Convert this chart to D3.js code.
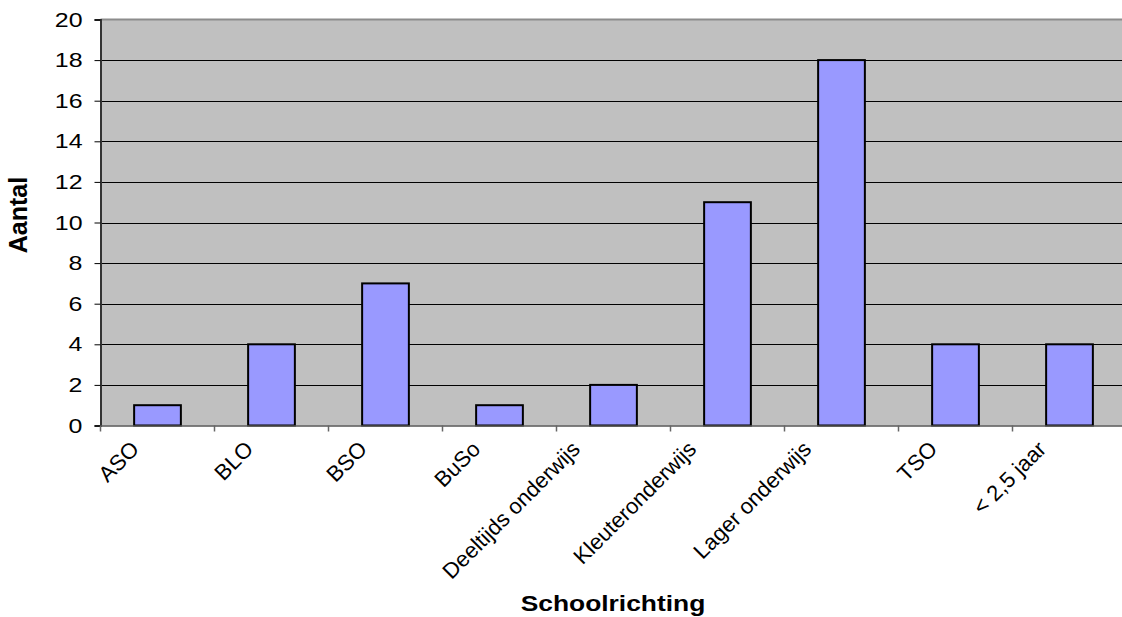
<!DOCTYPE html>
<html><head><meta charset="utf-8">
<script src="https://cdn.jsdelivr.net/npm/d3@7"></script>
<style>body{margin:0;background:#fff}svg{display:block;font-family:Arial,"Liberation Sans",sans-serif}</style>
</head><body>
<svg id="c" width="1122" height="617"></svg>
<script>
const categories = ["ASO","BLO","BSO","BuSo","Deeltijds onderwijs","Kleuteronderwijs","Lager onderwijs","TSO","< 2,5 jaar"];
const values = [1,4,7,1,2,11,18,4,4];
const yTicks = [0,2,4,6,8,10,12,14,16,18,20];
const yTitle = "Aantal";
const xTitle = "Schoolrichting";

const svg = d3.select("#c");
const L = 100.5, R = 1126.5, T = 19.5, B = 425.5;
const x = d3.scaleBand().domain(categories).range([L, R]).paddingInner(0.59).paddingOuter(0.295);
const xb = d3.scaleBand().domain(categories).range([L, R]);
const y = d3.scaleLinear().domain([0,20]).range([B, T]);

svg.append("rect").attr("x", L).attr("y", T).attr("width", R-L).attr("height", B-T).attr("fill", "#c0c0c0");

// gridlines
svg.append("g").selectAll("line").data(yTicks.filter(d => d > 0 && d < 20)).join("line")
  .attr("x1", L).attr("x2", R).attr("y1", d => Math.round(y(d))+0.5).attr("y2", d => Math.round(y(d))+0.5)
  .attr("stroke", "#000").attr("stroke-width", 1);
// top border
svg.append("line").attr("x1", L).attr("x2", R).attr("y1", T).attr("y2", T).attr("stroke", "#8c8c8c").attr("stroke-width", 2);

// bars
svg.append("g").selectAll("rect").data(values).join("rect")
  .attr("x", (d,i) => x(categories[i]))
  .attr("y", d => y(d))
  .attr("width", x.bandwidth())
  .attr("height", d => B - y(d))
  .attr("fill", "#9999ff").attr("stroke", "#000").attr("stroke-width", 2);

// y axis
const ya = d3.axisLeft(y).tickValues(yTicks).tickSize(6).tickFormat("");
const gy = svg.append("g").attr("transform", `translate(${L},0)`).call(ya);
gy.select(".domain").attr("stroke", "#333").attr("stroke-width", 2);
gy.selectAll(".tick line").attr("stroke", "#000");
svg.append("g").selectAll("text").data(yTicks).join("text")
  .attr("transform", d => `translate(${L - 18},${y(d)}) scale(1.28,1)`)
  .attr("text-anchor", "end").attr("dy", "0.36em").attr("font-size", 19.5).attr("fill", "#000")
  .text(d => d);

// x axis
const xa = d3.axisBottom(xb).tickSize(0).tickFormat("");
const gx = svg.append("g").attr("transform", `translate(0,${B})`).call(xa);
gx.select(".domain").attr("stroke", "#555").attr("stroke-width", 1.5);
gx.selectAll(".tick").remove();
const boundaries = categories.map((c) => xb(c)).concat([R]);
svg.append("g").selectAll("line").data(boundaries).join("line")
  .attr("x1", d => d).attr("x2", d => d).attr("y1", B).attr("y2", B + 6)
  .attr("stroke", "#666").attr("stroke-width", 1.5);

const labels = svg.append("g").selectAll("text").data(categories).join("text")
  .attr("text-anchor", "end").attr("font-size", 22).attr("fill", "#000")
  .text(d => d);
labels.each(function(d) {
  const len = this.getComputedTextLength();
  const off = -(12 + 0.11 * len);
  d3.select(this).attr("transform", `translate(${xb(d) + xb.bandwidth()/2 + off},${B + 25}) rotate(-45)`);
});

svg.append("text").attr("transform", `translate(27,215) rotate(-90)`)
  .attr("text-anchor", "middle").attr("font-size", 25).attr("font-weight", "bold").text(yTitle);
svg.append("text").attr("transform", `translate(613,611) scale(1.2,1)`)
  .attr("text-anchor", "middle").attr("font-size", 22).attr("font-weight", "bold").text(xTitle);
</script>
</body></html>
